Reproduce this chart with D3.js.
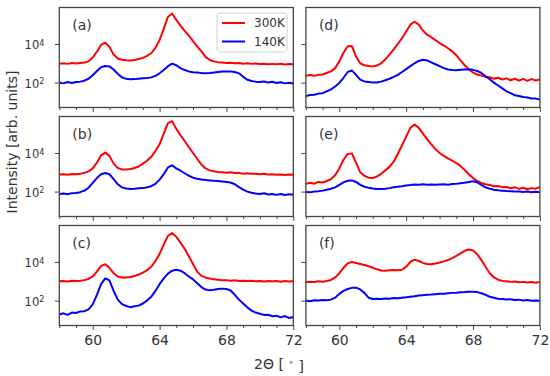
<!DOCTYPE html>
<html lang="en">
<head>
<meta charset="utf-8">
<title>XRD panels</title>
<script src="https://cdn.jsdelivr.net/npm/d3@7"></script>
<style>
  body { margin: 0; background: #fff; }
  svg text { font-family: "DejaVu Sans", sans-serif; fill: #333; }
  .tick line { stroke: #444; }
</style>
</head>
<body>
<div id="chart"></div>
<script>
// 2-theta sampling grid (degrees)
var theta = [58,58.25,58.5,58.75,59,59.25,59.5,59.75,60,60.25,60.5,60.75,61,61.25,61.5,61.75,
  62,62.25,62.5,62.75,63,63.25,63.5,63.75,64,64.25,64.5,64.75,65,65.25,65.5,65.75,
  66,66.25,66.5,66.75,67,67.25,67.5,67.75,68,68.25,68.5,68.75,69,69.25,69.5,69.75,
  70,70.25,70.5,70.75,71,71.25,71.5,71.75,72];

// log10 of intensity
var aRed = [2.98,3.0,2.97,3.01,2.99,3.02,3.04,3.1,3.3,3.6,3.95,4.07,3.85,3.45,3.25,3.18,
  3.16,3.15,3.17,3.22,3.28,3.38,3.52,3.8,4.2,4.8,5.4,5.58,5.25,4.95,4.68,4.43,
  4.15,3.88,3.62,3.33,3.17,3.1,3.06,3.04,3.02,3.03,3.0,3.01,2.98,3.0,2.97,2.99,
  2.96,2.98,2.95,2.97,2.95,2.98,2.94,2.96,2.95];
var aBlue = [2.0,1.96,2.03,1.98,2.03,2.05,2.1,2.2,2.38,2.6,2.8,2.86,2.84,2.68,2.45,2.27,
  2.2,2.17,2.18,2.2,2.22,2.24,2.27,2.35,2.48,2.65,2.85,2.98,2.9,2.75,2.65,2.58,
  2.54,2.52,2.5,2.49,2.5,2.52,2.55,2.57,2.58,2.57,2.55,2.48,2.3,2.15,2.08,2.05,
  2.03,2.06,2.0,2.04,1.98,2.02,1.96,1.99,1.95];

var bRed = [2.88,2.9,2.87,2.91,2.9,2.93,2.97,3.05,3.2,3.5,3.88,4.02,3.85,3.45,3.22,3.15,
  3.14,3.17,3.22,3.3,3.45,3.6,3.8,4.1,4.45,5.0,5.55,5.65,5.25,4.92,4.62,4.3,
  4.0,3.7,3.4,3.2,3.1,3.05,3.02,3.0,2.98,3.0,2.96,2.97,2.93,2.95,2.92,2.93,
  2.9,2.92,2.88,2.9,2.87,2.89,2.86,2.88,2.87];
var bBlue = [1.88,1.9,1.86,1.92,1.93,1.97,2.05,2.2,2.45,2.7,2.9,2.96,2.9,2.65,2.38,2.22,
  2.16,2.14,2.15,2.17,2.18,2.22,2.28,2.4,2.62,2.9,3.25,3.36,3.2,3.08,2.95,2.82,
  2.72,2.67,2.63,2.6,2.58,2.56,2.55,2.52,2.5,2.47,2.38,2.23,2.1,2.0,1.94,1.9,
  1.88,1.91,1.85,1.88,1.83,1.88,1.82,1.86,1.84];

var cRed = [3.0,3.02,2.99,3.03,3.01,3.03,3.06,3.12,3.25,3.5,3.8,3.88,3.7,3.42,3.25,3.2,
  3.2,3.22,3.27,3.35,3.45,3.58,3.75,4.05,4.42,4.9,5.35,5.5,5.3,5.0,4.68,4.3,
  3.9,3.5,3.28,3.2,3.14,3.1,3.08,3.05,3.06,3.03,3.05,3.02,3.03,3.01,3.03,3.0,
  3.02,2.99,3.02,3.0,3.01,2.98,3.01,2.99,3.02];
var cBlue = [1.28,1.34,1.26,1.38,1.36,1.44,1.45,1.55,1.8,2.3,2.85,3.15,3.05,2.5,2.05,1.82,
  1.72,1.66,1.71,1.74,1.85,2.0,2.2,2.5,2.85,3.15,3.4,3.55,3.6,3.55,3.42,3.25,
  3.1,2.9,2.7,2.57,2.53,2.56,2.6,2.62,2.6,2.52,2.3,2.05,1.85,1.65,1.48,1.38,
  1.32,1.26,1.27,1.19,1.22,1.13,1.2,1.1,1.15];

var dRed = [2.35,2.39,2.35,2.41,2.42,2.5,2.58,2.75,3.1,3.55,3.88,3.9,3.35,3.0,2.9,2.86,
  2.84,2.88,3.0,3.2,3.45,3.72,4.0,4.3,4.65,5.0,5.15,5.0,4.7,4.48,4.35,4.2,
  4.05,3.92,3.78,3.62,3.42,3.15,2.9,2.68,2.52,2.42,2.36,2.3,2.28,2.2,2.25,2.16,
  2.22,2.12,2.2,2.1,2.19,2.09,2.18,2.11,2.16];
var dBlue = [1.3,1.36,1.37,1.43,1.45,1.55,1.65,1.8,1.98,2.25,2.55,2.63,2.4,2.15,2.06,2.03,
  2.0,2.0,2.05,2.12,2.2,2.3,2.4,2.55,2.7,2.85,3.0,3.12,3.18,3.15,3.05,2.95,
  2.85,2.75,2.68,2.65,2.64,2.66,2.68,2.69,2.66,2.6,2.5,2.33,2.17,2.0,1.85,1.7,
  1.55,1.45,1.34,1.31,1.25,1.23,1.18,1.17,1.12];

var eRed = [2.4,2.46,2.41,2.5,2.47,2.55,2.65,2.85,3.2,3.65,3.95,3.98,3.5,3.0,2.82,2.72,
  2.7,2.78,2.92,3.1,3.28,3.55,3.95,4.4,4.85,5.3,5.48,5.3,5.0,4.72,4.45,4.2,
  4.0,3.85,3.72,3.6,3.48,3.32,3.12,2.9,2.7,2.55,2.45,2.38,2.34,2.28,2.29,2.23,
  2.24,2.17,2.22,2.14,2.2,2.12,2.18,2.15,2.24];
var eBlue = [1.98,1.96,2.0,2.02,2.05,2.1,2.15,2.22,2.35,2.48,2.56,2.58,2.5,2.35,2.25,2.2,
  2.16,2.14,2.13,2.15,2.18,2.22,2.25,2.28,2.32,2.34,2.37,2.36,2.38,2.36,2.37,2.35,
  2.37,2.38,2.36,2.39,2.4,2.43,2.46,2.5,2.54,2.48,2.35,2.22,2.15,2.1,2.07,2.05,
  2.03,2.02,2.0,2.01,1.98,2.0,1.97,1.99,1.97];

var fRed = [2.95,2.98,2.96,3.0,2.98,3.02,3.07,3.2,3.42,3.7,3.93,4.0,3.95,3.9,3.84,3.78,
  3.7,3.62,3.56,3.54,3.57,3.58,3.57,3.6,3.75,4.0,4.12,4.05,3.95,3.9,3.88,3.92,
  3.97,4.03,4.1,4.2,4.32,4.45,4.58,4.65,4.6,4.4,4.1,3.75,3.42,3.2,3.08,3.02,
  3.0,2.97,2.99,2.95,2.97,2.94,2.96,2.93,2.97];
var fBlue = [2.0,1.97,2.02,2.0,2.03,2.02,2.05,2.15,2.35,2.5,2.6,2.66,2.67,2.58,2.4,2.15,
  2.08,2.1,2.08,2.11,2.1,2.13,2.12,2.15,2.17,2.2,2.22,2.26,2.28,2.3,2.31,2.33,
  2.35,2.36,2.38,2.4,2.41,2.43,2.44,2.46,2.46,2.44,2.38,2.3,2.2,2.15,2.1,2.08,
  2.06,2.07,2.03,2.05,2.01,2.03,1.99,2.01,1.99];

var panelLabels = ["(a)", "(b)", "(c)", "(d)", "(e)", "(f)"];
var redSeries = [aRed, bRed, cRed, dRed, eRed, fRed];
var blueSeries = [aBlue, bBlue, cBlue, dBlue, eBlue, fBlue];
var seriesNames = ["300K", "140K"];
var seriesColors = ["#ff0000", "#0000ff"];
var xMajor = [60, 64, 68, 72];
var xMinor = [58, 59, 61, 62, 63, 65, 66, 67, 69, 70, 71];
var yTicks = [2, 4];

var w = 550, h = 376;
var colX = [59.3, 305.9];
var colW = 234;
var rowY = [7.5, 116.5, 225.5];
var panelH = 100;

var svg = d3.select("#chart").append("svg")
  .attr("width", w)
  .attr("height", h);

var line = d3.line().curve(d3.curveLinear);

for (var p = 0; p < 6; p++) {
  var col = Math.floor(p / 3), row = p % 3;
  var x0 = colX[col], y0 = rowY[row];

  var xScale = d3.scaleLinear().domain([58, 72]).range([0, colW]);
  var yScale = d3.scaleLog().domain([Math.pow(10, 0.71), Math.pow(10, 5.89)]).range([panelH, 0]);

  var g = svg.append("g").attr("transform", "translate(" + x0 + "," + y0 + ")");

  g.append("defs").append("clipPath").attr("id", "clip" + p)
    .append("rect").attr("width", colW).attr("height", panelH);

  var plot = g.append("g").attr("clip-path", "url(#clip" + p + ")");

  [redSeries[p], blueSeries[p]].forEach(function (vals, k) {
    var pts = theta.map(function (t, i) { return [xScale(t), yScale(Math.pow(10, vals[i]))]; });
    plot.append("path")
      .attr("d", line(pts))
      .attr("fill", "none")
      .attr("stroke", seriesColors[k])
      .attr("stroke-width", 2)
      .attr("stroke-linejoin", "round");
  });

  // x ticks (outward, bottom)
  var showX = row === 2;
  var xAx = d3.axisBottom(xScale).tickValues(xMajor).tickSize(4.5).tickPadding(5)
    .tickFormat(showX ? d3.format("d") : "");
  var xg = g.append("g").attr("transform", "translate(0," + panelH + ")").call(xAx);
  xg.select(".domain").remove();
  xg.selectAll("text").style("font-size", "14px").attr("dy", "0.72em");
  var xm = g.append("g").attr("transform", "translate(0," + panelH + ")")
    .call(d3.axisBottom(xScale).tickValues(xMinor).tickSize(2.5).tickFormat(""));
  xm.select(".domain").remove();

  // y ticks (outward, left)
  var yAx = d3.axisLeft(yScale).tickValues(yTicks.map(function (e) { return Math.pow(10, e); }))
    .tickSize(4.5).tickFormat("");
  var yg = g.append("g").call(yAx);
  yg.select(".domain").remove();
  if (col === 0) {
    yg.selectAll(".tick").each(function (d) {
      var t = d3.select(this).append("text")
        .attr("x", -15).attr("y", 0).attr("dy", "0.42em")
        .attr("text-anchor", "end")
        .style("font-size", "11.5px");
      t.append("tspan").text("10");
      t.append("tspan").attr("dy", "-0.45em").style("font-size", "8px")
        .text(Math.round(Math.log10(d)));
    });
  }
  g.selectAll(".tick line").attr("stroke", "#444").attr("stroke-width", 1);

  // frame
  g.append("rect")
    .attr("width", colW).attr("height", panelH)
    .attr("fill", "none").attr("stroke", "#444").attr("stroke-width", 1.3);

  g.append("text")
    .attr("x", 13).attr("y", 22)
    .style("font-size", "14px")
    .text(panelLabels[p]);
}

// legend in panel (a)
var leg = svg.append("g").attr("transform", "translate(217,13)");
leg.append("rect")
  .attr("width", 70).attr("height", 39).attr("rx", 2.5)
  .attr("fill", "#fff").attr("stroke", "#d0d0d0").attr("stroke-width", 1);
seriesNames.forEach(function (name, k) {
  var yy = 10 + k * 18.5;
  leg.append("line")
    .attr("x1", 5).attr("x2", 28).attr("y1", yy).attr("y2", yy)
    .attr("stroke", seriesColors[k]).attr("stroke-width", 2);
  leg.append("text")
    .attr("x", 37).attr("y", yy).attr("dy", "0.36em")
    .style("font-size", "12px")
    .text(name);
});

// axis titles
svg.append("text")
  .attr("transform", "translate(17,142) rotate(-90)")
  .attr("text-anchor", "middle")
  .style("font-size", "14px")
  .text("Intensity [arb. units]");

var xt = svg.append("text")
  .attr("x", 279).attr("y", 369)
  .attr("text-anchor", "middle")
  .style("font-size", "14px");
xt.append("tspan").text("2\u0398 [ ");
xt.append("tspan").attr("dy", "-0.45em").style("font-size", "9px").text("\u2218");
xt.append("tspan").attr("dy", "0.45em").text(" ]");
</script>
</body>
</html>
